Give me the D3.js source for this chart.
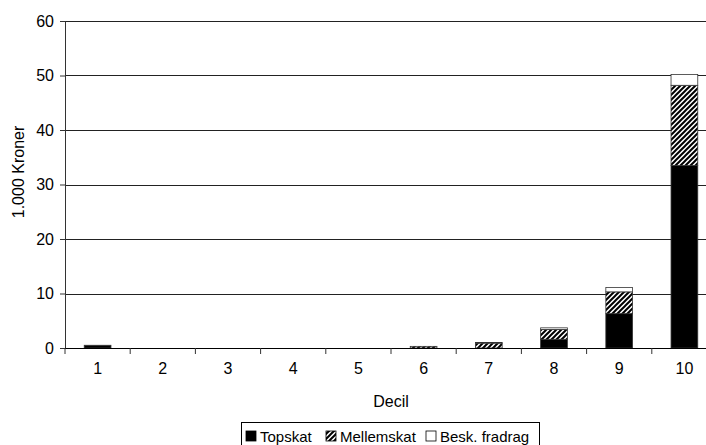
<!DOCTYPE html>
<html>
<head>
<meta charset="utf-8">
<script src="https://d3js.org/d3.v7.min.js"></script>
<style>
  body { margin: 0; background: white; }
  text { font-family: "Liberation Sans", Arial, sans-serif; fill: #000; }
  .grid line { stroke: #222; stroke-width: 1px; shape-rendering: crispEdges; }
</style>
</head>
<body>
<svg id="chart" width="706" height="445"></svg>
<script>
const deciles = ["1","2","3","4","5","6","7","8","9","10"];
const topskat = [0.5, 0, 0, 0, 0, 0, 0, 1.6, 6.3, 33.5];
const mellemskat = [0, 0, 0, 0, 0, 0.3, 0.9, 1.8, 4.0, 14.7];
const beskFradrag = [0, 0, 0, 0, 0, 0, 0.1, 0.3, 0.8, 2.0];
const seriesNames = ["Topskat", "Mellemskat", "Besk. fradrag"];
const yTicks = [0, 10, 20, 30, 40, 50, 60];

const svg = d3.select("#chart");
const margin = { top: 21, left: 65 };
const plotW = 652, plotH = 327;
const fontSize = 16;

// hatch pattern for Mellemskat
const defs = svg.append("defs");
const pat = defs.append("pattern")
  .attr("id", "hatch").attr("patternUnits", "userSpaceOnUse")
  .attr("width", 5).attr("height", 5);
pat.append("rect").attr("width", 5).attr("height", 5).attr("fill", "white");
pat.append("path").attr("d", "M-1,1 l2,-2 M0,5 l5,-5 M4,6 l2,-2")
  .attr("stroke", "black").attr("stroke-width", 2);

const fills = ["black", "url(#hatch)", "white"];

const x = d3.scaleBand().domain(deciles).range([0, plotW]).paddingInner(0.59).paddingOuter(0.295);
const xTick = d3.scaleBand().domain(deciles).range([0, plotW]);
const y = d3.scaleLinear().domain([0, 60]).range([plotH, 0]);

const g = svg.append("g").attr("transform", `translate(${margin.left},${margin.top})`);

// gridlines
g.append("g").attr("class", "grid")
  .selectAll("line").data(yTicks.slice(1)).join("line")
  .attr("x1", 0).attr("x2", plotW)
  .attr("y1", d => Math.round(y(d)) + 0.5).attr("y2", d => Math.round(y(d)) + 0.5);

// stacked bars
const rows = deciles.map((d, i) => ({ decil: d, Topskat: topskat[i], Mellemskat: mellemskat[i], "Besk. fradrag": beskFradrag[i] }));
const stack = d3.stack().keys(seriesNames)(rows);

stack.forEach((layer, li) => {
  g.append("g").selectAll("rect").data(layer.filter(d => d[1] - d[0] > 0)).join("rect")
    .attr("x", d => x(d.data.decil))
    .attr("width", x.bandwidth())
    .attr("y", d => y(d[1]))
    .attr("height", d => y(d[0]) - y(d[1]))
    .attr("fill", fills[li])
    .attr("stroke", "#333")
    .attr("stroke-width", 0.8);
});

// y axis
const yAxis = g.append("g")
  .call(d3.axisLeft(y).tickValues(yTicks).tickSize(5).tickPadding(6));
yAxis.select(".domain").attr("stroke", "#333");
yAxis.selectAll(".tick line").attr("stroke", "#333");
yAxis.selectAll("text").attr("font-size", fontSize).attr("fill", "#000")
  .style("font-family", "'Liberation Sans', Arial, sans-serif");

// x axis
const xAxis = g.append("g").attr("transform", `translate(0,${plotH})`)
  .call(d3.axisBottom(xTick).tickSize(0).tickPadding(15));
xAxis.select(".domain").attr("stroke", "#000").attr("d", `M0,0.5H${plotW}`);
xAxis.selectAll("text").attr("font-size", fontSize).attr("fill", "#000")
  .style("font-family", "'Liberation Sans', Arial, sans-serif");
g.append("g").selectAll("line").data(d3.range(deciles.length + 1)).join("line")
  .attr("x1", d => d * xTick.step()).attr("x2", d => d * xTick.step())
  .attr("y1", plotH).attr("y2", plotH + 6)
  .attr("stroke", "#333");

// axis titles
svg.append("text").attr("x", 391).attr("y", 407).attr("text-anchor", "middle")
  .attr("font-size", fontSize).text("Decil");
svg.append("text").attr("transform", "translate(24,172) rotate(-90)")
  .attr("text-anchor", "middle").attr("font-size", fontSize).text("1.000 Kroner");

// legend
const legend = svg.append("g");
legend.append("rect").attr("x", 241.5).attr("y", 422.5).attr("width", 298).attr("height", 23)
  .attr("fill", "white").attr("stroke", "#000");
const legX = [246, 326, 426];
seriesNames.forEach((name, i) => {
  legend.append("rect").attr("x", legX[i]).attr("y", 431).attr("width", 10).attr("height", 10)
    .attr("fill", fills[i]).attr("stroke", "#000").attr("stroke-width", 0.8);
  legend.append("text").attr("x", legX[i] + 14).attr("y", 441.5)
    .attr("font-size", 15).text(name);
});
</script>
</body>
</html>
